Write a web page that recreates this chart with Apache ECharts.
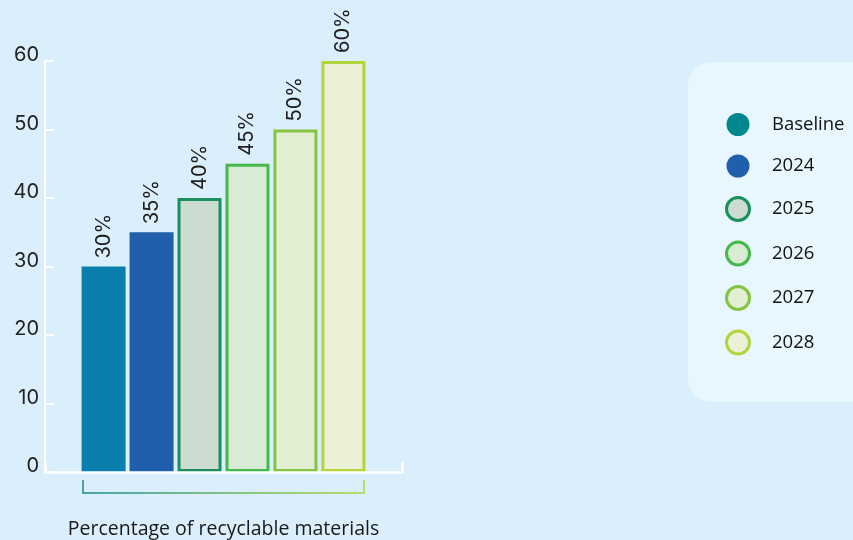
<!DOCTYPE html>
<html>
<head>
<meta charset="utf-8">
<script src="https://cdn.jsdelivr.net/npm/echarts@6/dist/echarts.min.js"></script>
<style>
  html, body { margin: 0; padding: 0; background: #dbeefb; }
  #chart { width: 853px; height: 540px; }
</style>
</head>
<body>
<div id="chart"></div>
<script>
// Recyclable material share by milestone
const categories = ['Percentage of recyclable materials'];
const seriesNames = ['Baseline', '2024', '2025', '2026', '2027', '2028'];
const seriesValues = [30, 35, 40, 45, 50, 60];
const yTicks = [0, 10, 20, 30, 40, 50, 60];

// Fill / outline per series
const fills = ['#0a7fae', '#1f5fab', '#ccdcd3', '#d8ecd3', '#e2efd3', '#eaf1d6'];
const outlines = [null, null, '#1a8f5c', '#46b94d', '#85c441', '#b3d43b'];
const legendFills = ['#00888e', '#1f5fab', '#ccdcd3', '#d8ecd3', '#e2efd3', '#eaf1d6'];

const chart = echarts.init(document.getElementById('chart'));

const series = seriesNames.map((name, i) => ({
  name: name,
  type: 'bar',
  barWidth: 44,
  barGap: '9%',
  data: [seriesValues[i]],
  itemStyle: outlines[i]
    ? { color: fills[i], borderColor: outlines[i], borderWidth: 3 }
    : { color: fills[i], borderWidth: 0 },
  label: {
    show: true,
    position: 'top',
    distance: 8,
    rotate: 90,
    align: 'left',
    verticalAlign: 'middle',
    formatter: '{c}%',
    fontFamily: 'Inter',
    fontSize: 20,
    color: '#1e1e1e'
  }
}));

chart.setOption({
  backgroundColor: '#dbeefb',
  animation: false,
  grid: { left: 45, right: 451, top: 61, bottom: 68, outerBoundsMode: 'none', containLabel: false },
  graphic: [
    {
      type: 'rect',
      z: -1,
      shape: { x: 688, y: 62, width: 220, height: 340, r: 24 },
      style: { fill: '#e8f6fe' }
    },
    {
      type: 'polyline',
      shape: { points: [[83, 480], [83, 493], [364, 493], [364, 480]] },
      style: {
        fill: null,
        lineWidth: 1.5,
        stroke: new echarts.graphic.LinearGradient(0, 0, 1, 0, [
          { offset: 0, color: '#168c8c' },
          { offset: 1, color: '#b0d838' }
        ])
      }
    }
  ],
  legend: {
    orient: 'vertical',
    left: 720,
    top: 108,
    icon: 'circle',
    itemWidth: 58,
    itemHeight: 23,
    itemGap: 18.5,
    textStyle: { fontFamily: 'Open Sans', fontSize: 18.5, color: '#111' },
    data: seriesNames.map((name, i) => ({
      name: name,
      itemStyle: outlines[i]
        ? { color: legendFills[i], borderColor: outlines[i], borderWidth: 3 }
        : { color: legendFills[i], borderWidth: 0 }
    }))
  },
  xAxis: {
    type: 'category',
    data: categories,
    name: categories[0],
    nameLocation: 'middle',
    nameGap: 47,
    nameTextStyle: { fontFamily: 'Open Sans', fontSize: 19.5, color: '#1a1a1a' },
    axisLine: { lineStyle: { color: '#ffffff', width: 2.5 } },
    axisTick: { show: true, inside: true, length: 10, lineStyle: { color: '#ffffff', width: 2.5 } },
    axisLabel: { show: false },
    z: 5
  },
  yAxis: {
    type: 'value',
    min: yTicks[0],
    max: yTicks[yTicks.length - 1],
    interval: 10,
    axisLine: { show: true, lineStyle: { color: '#ffffff', width: 2 } },
    axisTick: { show: true, inside: true, length: 9, lineStyle: { color: '#ffffff', width: 2 } },
    splitLine: { show: false },
    axisLabel: {
      margin: 6,
      fontFamily: 'Inter',
      fontSize: 20,
      color: '#222',
      verticalAlign: 'bottom',
      lineHeight: 12
    }
  },
  series: series
});
</script>
</body>
</html>
